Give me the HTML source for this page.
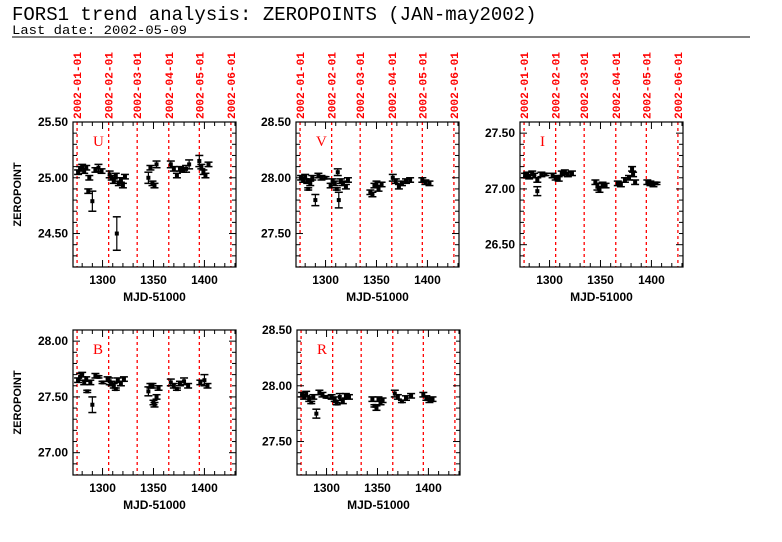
<!DOCTYPE html>
<html><head><meta charset="utf-8"><style>
html,body{margin:0;padding:0;background:#fff;}
svg{display:block;}
</style></head><body>
<svg id="chart" width="782" height="542" viewBox="0 0 782 542" xmlns="http://www.w3.org/2000/svg">
<rect width="782" height="542" fill="#fff"/>
<text x="12" y="20" font-family="Liberation Mono, monospace" font-size="19" fill="#000">FORS1 trend analysis: ZEROPOINTS (JAN-may2002)</text>
<text x="12" y="34" font-family="Liberation Mono, monospace" font-size="13" fill="#000" textLength="175" lengthAdjust="spacingAndGlyphs">Last date: 2002-05-09</text>
<line x1="12" y1="37" x2="750" y2="37" stroke="#000" stroke-width="1"/>
</svg>
<script>
const dateLabels = ["2002-01-01","2002-02-01","2002-03-01","2002-04-01","2002-05-01","2002-06-01"];
const dateMjd = [1275,1306,1334,1365,1395,1426];
const xTicks = [1300,1350,1400];

const uMjd = [1276,1278,1280,1282,1284,1286,1287,1290,1293,1296,1299,1307,1309,1311,1313,1314,1316,1318,1320,1322,1345,1347,1349,1351,1353,1367,1370,1373,1376,1379,1382,1385,1395,1397,1399,1401,1404];
const uZp  = [25.05,25.08,25.10,25.06,25.09,24.88,25.00,24.79,25.07,25.09,25.06,25.03,25.00,24.97,25.02,24.50,24.95,24.98,24.93,25.01,25.00,25.09,24.95,24.93,25.12,25.12,25.08,25.02,25.08,25.07,25.08,25.12,25.15,25.10,25.05,25.02,25.12];
const uErr = [0.02,0.02,0.02,0.02,0.02,0.02,0.02,0.09,0.02,0.03,0.02,0.03,0.02,0.02,0.02,0.15,0.02,0.02,0.02,0.02,0.05,0.02,0.02,0.02,0.03,0.03,0.02,0.02,0.02,0.02,0.03,0.04,0.05,0.02,0.02,0.02,0.02];

const vMjd = [1276,1278,1280,1282,1283,1285,1287,1290,1293,1296,1300,1305,1307,1309,1311,1312,1313,1315,1317,1320,1322,1344,1346,1348,1350,1352,1355,1366,1369,1372,1375,1379,1383,1395,1398,1402];
const vZp  = [28.00,27.98,28.01,27.97,27.90,27.95,28.00,27.80,28.02,28.00,28.00,27.93,27.97,27.95,27.90,28.05,27.80,27.97,27.95,27.92,27.98,27.87,27.85,27.93,27.95,27.90,27.94,28.00,27.97,27.92,27.95,27.97,27.98,27.98,27.96,27.95];
const vErr = [0.02,0.02,0.02,0.02,0.01,0.02,0.02,0.05,0.02,0.02,0.01,0.02,0.02,0.02,0.01,0.03,0.07,0.02,0.02,0.02,0.02,0.02,0.02,0.02,0.02,0.02,0.02,0.03,0.02,0.02,0.02,0.02,0.02,0.02,0.02,0.02];

const iMjd = [1276,1278,1280,1283,1285,1288,1288,1292,1296,1303,1306,1309,1312,1315,1318,1322,1345,1347,1349,1352,1355,1367,1370,1374,1378,1381,1382,1384,1396,1399,1402,1405];
const iZp  = [27.12,27.13,27.11,27.14,27.12,27.08,26.98,27.13,27.13,27.12,27.10,27.09,27.14,27.15,27.13,27.14,27.06,27.02,26.99,27.04,27.03,27.05,27.04,27.08,27.10,27.18,27.13,27.06,27.06,27.05,27.04,27.05];
const iErr = [0.02,0.02,0.02,0.02,0.02,0.02,0.04,0.02,0.01,0.02,0.02,0.02,0.02,0.02,0.02,0.02,0.02,0.03,0.02,0.02,0.02,0.02,0.02,0.02,0.02,0.02,0.02,0.02,0.02,0.02,0.02,0.01];

const bMjd = [1276,1278,1280,1282,1284,1285,1288,1290,1293,1296,1300,1305,1307,1309,1311,1313,1315,1318,1321,1345,1347,1349,1350,1351,1353,1355,1367,1370,1373,1376,1380,1384,1396,1400,1403];
const bZp  = [27.65,27.68,27.70,27.63,27.66,27.55,27.63,27.43,27.69,27.68,27.63,27.66,27.64,27.62,27.60,27.57,27.65,27.62,27.66,27.55,27.60,27.60,27.45,27.43,27.50,27.58,27.63,27.60,27.57,27.62,27.64,27.60,27.63,27.65,27.60];
const bErr = [0.02,0.03,0.02,0.02,0.02,0.01,0.02,0.07,0.02,0.01,0.01,0.02,0.03,0.02,0.02,0.01,0.02,0.02,0.02,0.04,0.02,0.02,0.02,0.02,0.02,0.02,0.03,0.02,0.01,0.02,0.03,0.02,0.02,0.05,0.02];

const rMjd = [1276,1278,1280,1283,1285,1287,1290,1293,1296,1300,1305,1308,1310,1313,1316,1319,1322,1345,1347,1349,1351,1353,1355,1367,1370,1374,1378,1383,1395,1398,1401,1404];
const rZp  = [27.92,27.90,27.93,27.88,27.85,27.90,27.75,27.94,27.92,27.90,27.90,27.88,27.84,27.90,27.86,27.91,27.90,27.88,27.82,27.80,27.88,27.85,27.87,27.93,27.90,27.86,27.89,27.91,27.92,27.89,27.87,27.88];
const rErr = [0.02,0.02,0.02,0.02,0.01,0.02,0.04,0.02,0.02,0.01,0.02,0.02,0.01,0.03,0.02,0.02,0.02,0.02,0.01,0.02,0.02,0.02,0.02,0.03,0.02,0.01,0.02,0.02,0.02,0.02,0.02,0.02];

const NS = "http://www.w3.org/2000/svg";
const svg = document.getElementById('chart');
function mk(tag, attrs, parent){
  const e = document.createElementNS(NS, tag);
  for (const k in attrs) e.setAttribute(k, attrs[k]);
  (parent||svg).appendChild(e);
  return e;
}
const FONT = "Liberation Sans, sans-serif";

function panel(opt){
  const {band, bx, by, yMin, yMax, yTicks, mjd, zp, err, dates, ylabel} = opt;
  const bw = 163, bh = 145, xMin = 1271, xMax = 1431;
  const g = mk('g', {});
  
  
  const X = v => bx + (v - xMin) / (xMax - xMin) * bw;
  const Y = v => by + (yMax - v) / (yMax - yMin) * bh;
  dateMjd.forEach((d, i) => {
    const l = mk('line', {x1:X(d), x2:X(d), y1:by, y2:by+bh, stroke:'#f00', 'stroke-width':1.3, 'stroke-dasharray':'3,3'}, g);
    
    
    if (dates) {
      const t = mk('text', {x:0, y:0, transform:`translate(${X(d)+4},${by-3}) rotate(-90)`, 'font-family':"Liberation Mono, monospace", 'font-size':11, 'font-weight':'bold', fill:'#f00', textLength:67, lengthAdjust:'spacingAndGlyphs'}, g);
      t.textContent = dateLabels[i];
      
      
    }
  });
  const box = mk('rect', {x:bx, y:by, width:bw, height:bh, fill:'none', stroke:'#000', 'stroke-width':1.2}, g);
  
  
  for (let v = 1280; v <= 1430; v += 10) {
    const len = (v % 50 === 0) ? 7 : 4;
    mk('line', {x1:X(v), x2:X(v), y1:by+bh, y2:by+bh-len, stroke:'#000'}, g);
    mk('line', {x1:X(v), x2:X(v), y1:by, y2:by+len, stroke:'#000'}, g);
  }
  xTicks.forEach(v => {
    const t = mk('text', {x:X(v), y:by+bh+17, 'text-anchor':'middle', 'font-family':FONT, 'font-size':12, 'font-weight':'bold', fill:'#000'}, g);
    t.textContent = v;
    
    
  });
  const xt = mk('text', {x:bx+bw/2, y:by+bh+34, 'text-anchor':'middle', 'font-family':FONT, 'font-size':12, 'font-weight':'bold', fill:'#000'}, g);
  xt.textContent = 'MJD-51000';
  
  
  for (let k = Math.ceil(yMin*10); k <= Math.floor(yMax*10); k++) {
    const v = k/10;
    const len = (k % 5 === 0) ? 7 : 4;
    mk('line', {x1:bx, x2:bx+len, y1:Y(v), y2:Y(v), stroke:'#000'}, g);
    mk('line', {x1:bx+bw, x2:bx+bw-len, y1:Y(v), y2:Y(v), stroke:'#000'}, g);
  }
  yTicks.forEach(v => {
    const t = mk('text', {x:bx-5, y:Y(v)+4, 'text-anchor':'end', 'font-family':FONT, 'font-size':12, 'font-weight':'bold', fill:'#000'}, g);
    t.textContent = v.toFixed(2);
    
    
  });
  if (ylabel) {
    const t = mk('text', {x:0, y:0, transform:`translate(${bx-52},${by+bh/2}) rotate(-90)`, 'text-anchor':'middle', 'font-family':FONT, 'font-size':11, 'font-weight':'bold', fill:'#000'}, g);
    t.textContent = 'ZEROPOINT';
    
    
  }
  const bl = mk('text', {x:bx+20, y:by+24, 'text-anchor':'start', 'font-family':"Liberation Serif, serif", 'font-size':15, fill:'#f00'}, g);
  bl.textContent = band;
  
  
  mjd.forEach((m, i) => {
    const x = X(m), y = Y(zp[i]), y1 = Y(zp[i]+err[i]), y2 = Y(zp[i]-err[i]);
    const p = mk('g', {}, g);
    
    
    mk('line', {x1:x, x2:x, y1:y1, y2:y2, stroke:'#000', 'stroke-width':1.2}, p);
    mk('line', {x1:x-4, x2:x+4, y1:y1, y2:y1, stroke:'#000', 'stroke-width':1.5}, p);
    mk('line', {x1:x-4, x2:x+4, y1:y2, y2:y2, stroke:'#000', 'stroke-width':1.5}, p);
    mk('rect', {x:x-2, y:y-2, width:4, height:4, fill:'#000'}, p);
  });
}

panel({band:'U', bx:73, by:122, yMin:24.2, yMax:25.5, yTicks:[24.5,25.0,25.5], mjd:uMjd, zp:uZp, err:uErr, dates:true, ylabel:true});
panel({band:'V', bx:296, by:122, yMin:27.2, yMax:28.5, yTicks:[27.5,28.0,28.5], mjd:vMjd, zp:vZp, err:vErr, dates:true, ylabel:false});
panel({band:'I', bx:520, by:122, yMin:26.3, yMax:27.6, yTicks:[26.5,27.0,27.5], mjd:iMjd, zp:iZp, err:iErr, dates:true, ylabel:false});
panel({band:'B', bx:73, by:330, yMin:26.8, yMax:28.1, yTicks:[27.0,27.5,28.0], mjd:bMjd, zp:bZp, err:bErr, dates:false, ylabel:true});
panel({band:'R', bx:297, by:330, yMin:27.2, yMax:28.5, yTicks:[27.5,28.0,28.5], mjd:rMjd, zp:rZp, err:rErr, dates:false, ylabel:false});
</script>
</body></html>
